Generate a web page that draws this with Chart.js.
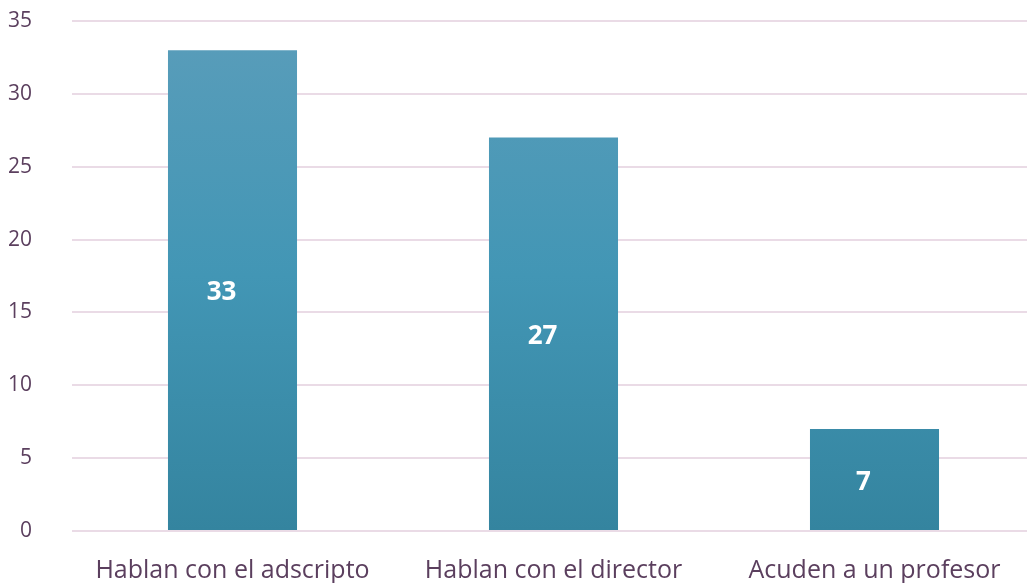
<!DOCTYPE html>
<html>
<head>
<meta charset="utf-8">
<script src="https://cdn.jsdelivr.net/npm/chart.js@4/dist/chart.umd.min.js"></script>
<style>
  html, body { margin: 0; padding: 0; background: #fff; overflow: hidden; }
  #clip { width: 1027px; height: 583px; overflow: hidden; }
  #wrap { width: 1035px; height: 583px; position: relative; }
</style>
</head>
<body>
<div id="clip"><div id="wrap"><canvas id="main-chart"></canvas></div></div>
<script>
const categories = ['Hablan con el adscripto', 'Hablan con el director', 'Acuden a un profesor'];
const counts = [33, 27, 7];
const yTicks = [0, 5, 10, 15, 20, 25, 30, 35];

const fontFamily = "'Open Sans', 'Noto Sans', sans-serif";
const textColor = '#5b3f5e';

// teal gradient, lighter at the top of each bar
function barFill(ctx) {
  const chart = ctx.chart;
  const area = chart.chartArea;
  if (!area) return '#4296b5';
  const el = ctx.element;
  const top = el && el.y != null ? el.y : area.top;
  const bottom = el && el.base != null ? el.base : area.bottom;
  const g = chart.ctx.createLinearGradient(0, top, 0, bottom);
  g.addColorStop(0, '#5a9dba');
  g.addColorStop(0.5, '#4296b5');
  g.addColorStop(1, '#34849f');
  return g;
}

// value labels inside the bars
const valueLabels = {
  id: 'valueLabels',
  afterDatasetsDraw(chart) {
    const { ctx } = chart;
    const meta = chart.getDatasetMeta(0);
    ctx.save();
    ctx.fillStyle = '#ffffff';
    ctx.font = `bold 26px ${fontFamily}`;
    ctx.textAlign = 'center';
    ctx.textBaseline = 'middle';
    meta.data.forEach((bar, i) => {
      const y = (bar.y + bar.base) / 2 + 3;
      ctx.fillText(String(counts[i]), bar.x - 11, y);
    });
    ctx.restore();
  }
};

new Chart(document.getElementById('main-chart'), {
  type: 'bar',
  data: {
    labels: categories,
    datasets: [{
      data: counts,
      backgroundColor: barFill,
      borderWidth: 0,
      barPercentage: 1,
      categoryPercentage: 0.402
    }]
  },
  options: {
    responsive: true,
    maintainAspectRatio: false,
    animation: false,
    layout: { padding: { top: 21, right: 0, left: 0, bottom: 0 } },
    plugins: { legend: { display: false }, tooltip: { enabled: false } },
    scales: {
      y: {
        min: 0,
        max: 35,
        afterBuildTicks: axis => { axis.ticks = yTicks.map(v => ({ value: v })); },
        afterFit: axis => {
          axis.width = 72;
          axis.paddingTop = 0;
          axis.paddingBottom = 0;
        },
        border: { display: false },
        grid: { color: '#eadbe6', lineWidth: 2, drawTicks: false },
        ticks: { color: textColor, padding: 40, font: { family: fontFamily, size: 21 } }
      },
      x: {
        border: { display: false },
        grid: { display: false, drawTicks: false },
        afterFit: axis => {
          axis.height = 52;
          axis.paddingLeft = 0;
          axis.paddingRight = 0;
        },
        ticks: { color: textColor, padding: 25, maxRotation: 0, font: { family: fontFamily, size: 25 } }
      }
    }
  },
  plugins: [valueLabels]
});
</script>
</body>
</html>
